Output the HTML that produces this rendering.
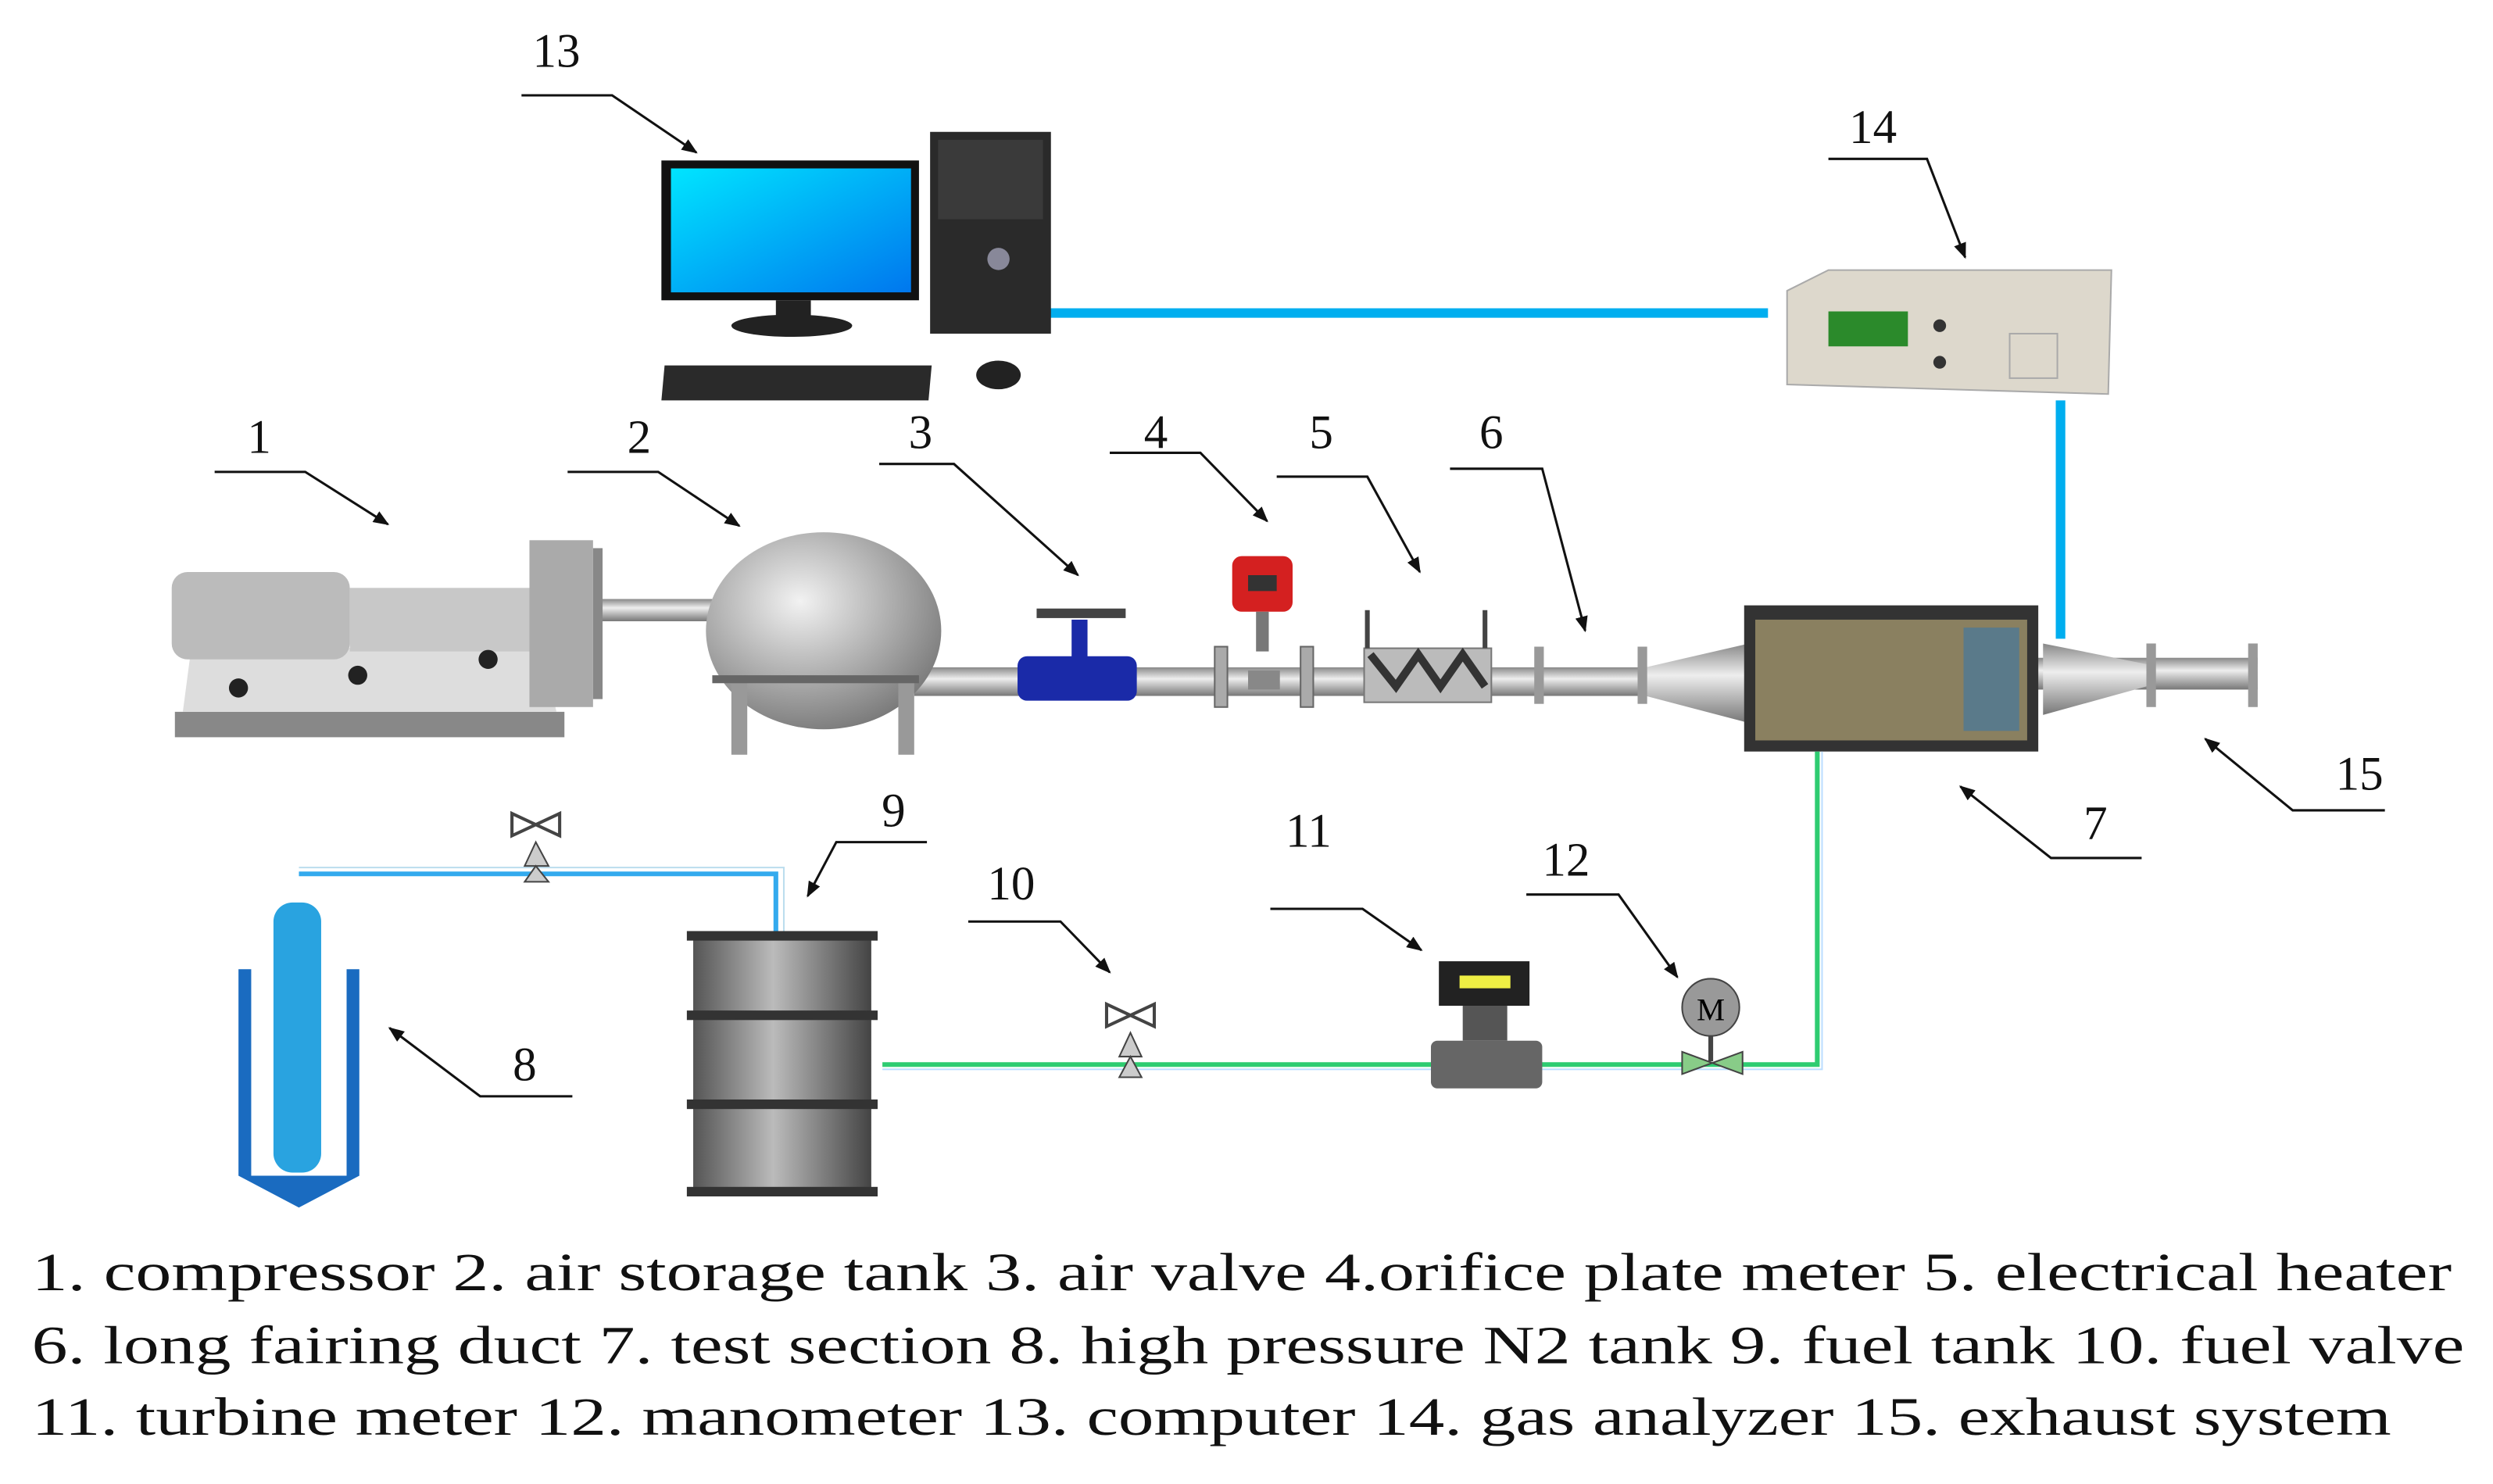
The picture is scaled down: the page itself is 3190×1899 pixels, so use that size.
<!DOCTYPE html>
<html><head><meta charset="utf-8"><style>html,body{margin:0;padding:0;background:#fff}svg{display:block;font-family:"Liberation Serif",serif}</style></head><body>
<svg width="3190" height="1899" viewBox="0 0 1568 934" preserveAspectRatio="none" xmlns="http://www.w3.org/2000/svg">
<defs>
<marker id="ar" markerWidth="10" markerHeight="8" refX="9" refY="4" orient="auto" markerUnits="userSpaceOnUse"><path d="M0,0 L10,4 L0,8 Z" fill="#111"/></marker>
<linearGradient id="pipe" x1="0" y1="0" x2="0" y2="1"><stop offset="0" stop-color="#888"/><stop offset="0.4" stop-color="#eee"/><stop offset="1" stop-color="#777"/></linearGradient>
<linearGradient id="drum" x1="0" y1="0" x2="1" y2="0"><stop offset="0" stop-color="#555"/><stop offset="0.45" stop-color="#bbb"/><stop offset="1" stop-color="#444"/></linearGradient>
<radialGradient id="sph" cx="0.4" cy="0.35" r="0.7"><stop offset="0" stop-color="#f2f2f2"/><stop offset="1" stop-color="#777"/></radialGradient>
<linearGradient id="scr" x1="0" y1="0" x2="1" y2="1"><stop offset="0" stop-color="#00e5ff"/><stop offset="1" stop-color="#0077ee"/></linearGradient>
</defs>
<line x1="660" y1="197" x2="1112" y2="197" stroke="#00aeef" stroke-width="6"/>
<line x1="1296" y1="252" x2="1296" y2="402" stroke="#00aeef" stroke-width="6"/>
<rect x="416" y="101" width="162" height="88" fill="#111"/>
<rect x="422" y="106" width="151" height="78" fill="url(#scr)"/>
<rect x="488" y="189" width="22" height="12" fill="#222"/>
<ellipse cx="498" cy="205" rx="38" ry="7" fill="#222"/>
<rect x="585" y="83" width="76" height="127" fill="#2a2a2a"/>
<rect x="590" y="88" width="66" height="50" fill="#3a3a3a"/>
<circle cx="628" cy="163" r="7" fill="#889"/>
<path d="M418 230 L586 230 L584 252 L416 252 Z" fill="#2a2a2a"/>
<ellipse cx="628" cy="236" rx="14" ry="9" fill="#222"/>
<path d="M1124 183 L1150 170 L1328 170 L1326 248 L1124 242 Z" fill="#ddd8cc" stroke="#aaa"/>
<rect x="1150" y="196" width="50" height="22" fill="#2b8a2b"/>
<circle cx="1220" cy="205" r="4" fill="#333"/><circle cx="1220" cy="228" r="4" fill="#333"/>
<rect x="1264" y="210" width="30" height="28" fill="none" stroke="#aaa"/>
<rect x="376" y="377" width="80" height="14" fill="url(#pipe)"/>
<rect x="575" y="420" width="530" height="18" fill="url(#pipe)"/>
<rect x="1280" y="414" width="140" height="20" fill="url(#pipe)"/>
<path d="M1035 420 L1100 405 L1100 455 L1035 438 Z" fill="url(#pipe)"/>
<path d="M1285 405 L1350 418 L1350 432 L1285 450 Z" fill="url(#pipe)"/>
<rect x="965" y="407" width="6" height="36" fill="#999"/><rect x="1030" y="407" width="6" height="36" fill="#999"/>
<rect x="1350" y="405" width="6" height="40" fill="#999"/><rect x="1414" y="405" width="6" height="40" fill="#999"/>
<rect x="764" y="407" width="8" height="38" fill="#aaa" stroke="#666"/><rect x="818" y="407" width="8" height="38" fill="#aaa" stroke="#666"/>
<rect x="785" y="422" width="20" height="12" fill="#888"/>
<rect x="110" y="448" width="245" height="16" fill="#888"/>
<path d="M115 448 L120 410 L340 405 L350 448 Z" fill="#ddd"/>
<rect x="108" y="360" width="112" height="55" rx="10" fill="#bbb"/>
<rect x="220" y="370" width="115" height="40" fill="#c8c8c8"/>
<rect x="333" y="340" width="40" height="105" fill="#aaa"/>
<rect x="373" y="345" width="6" height="95" fill="#888"/>
<circle cx="150" cy="433" r="6" fill="#222"/><circle cx="225" cy="425" r="6" fill="#222"/><circle cx="307" cy="415" r="6" fill="#222"/>
<ellipse cx="518" cy="397" rx="74" ry="62" fill="url(#sph)"/>
<rect x="460" y="425" width="10" height="50" fill="#999"/><rect x="565" y="425" width="10" height="50" fill="#999"/>
<rect x="448" y="425" width="130" height="5" fill="#666"/>
<rect x="640" y="413" width="75" height="28" rx="6" fill="#1a2aa8"/>
<rect x="674" y="390" width="10" height="25" fill="#1a2aa8"/>
<rect x="652" y="383" width="56" height="6" fill="#444"/>
<rect x="775" y="350" width="38" height="35" rx="6" fill="#d42020"/>
<rect x="785" y="362" width="18" height="10" fill="#333"/>
<rect x="790" y="385" width="8" height="25" fill="#777"/>
<rect x="858" y="408" width="80" height="34" fill="#bbb" stroke="#777"/>
<line x1="860" y1="384" x2="860" y2="408" stroke="#444" stroke-width="3"/><line x1="934" y1="384" x2="934" y2="408" stroke="#444" stroke-width="3"/>
<path d="M862 412 L878 432 L892 412 L906 432 L920 412 L934 432" fill="none" stroke="#333" stroke-width="5"/>
<rect x="1097" y="381" width="185" height="92" fill="#333"/>
<rect x="1104" y="390" width="171" height="76" fill="#8a8060"/>
<rect x="1235" y="395" width="35" height="65" fill="#5a7a8a"/>
<polyline points="1143,473 1143,670 555,670" fill="none" stroke="#2ecc71" stroke-width="3"/>
<polyline points="1146,473 1146,673 555,673" fill="none" stroke="#bdf" stroke-width="1"/>
<polyline points="188,550 488,550 488,588" fill="none" stroke="#33aaee" stroke-width="3"/>
<polyline points="188,546 493,546 493,588" fill="none" stroke="#bde" stroke-width="1"/>
<path d="M322 512 L352 526 L352 512 L322 526 Z" fill="none" stroke="#444" stroke-width="2"/><path d="M330 545 L345 545 L337 530 Z M330 555 L345 555 L337 545Z" fill="#ccc" stroke="#444"/>
<path d="M696 632 L726 646 L726 632 L696 646 Z" fill="none" stroke="#444" stroke-width="2"/><path d="M704 665 L718 665 L711 650 Z M704 678 L718 678 L711 665Z" fill="#ccc" stroke="#444"/>
<rect x="172" y="568" width="30" height="170" rx="12" fill="#29a3e0"/>
<rect x="150" y="610" width="8" height="130" fill="#1a6bc0"/><rect x="218" y="610" width="8" height="130" fill="#1a6bc0"/>
<path d="M150 740 L188 760 L226 740 Z" fill="#1a6bc0"/>
<rect x="436" y="588" width="112" height="163" fill="url(#drum)"/>
<rect x="432" y="586" width="120" height="6" fill="#333"/><rect x="432" y="636" width="120" height="6" fill="#333"/><rect x="432" y="692" width="120" height="6" fill="#333"/><rect x="432" y="747" width="120" height="6" fill="#333"/>
<rect x="905" y="605" width="57" height="28" fill="#222"/><rect x="918" y="614" width="32" height="8" fill="#ee4"/>
<rect x="920" y="633" width="28" height="22" fill="#555"/>
<rect x="900" y="655" width="70" height="30" rx="4" fill="#666"/>
<circle cx="1076" cy="634" r="18" fill="#999" stroke="#444"/><text x="1076" y="642" font-size="20" text-anchor="middle">M</text>
<line x1="1076" y1="652" x2="1076" y2="668" stroke="#444" stroke-width="3"/>
<path d="M1058 662 L1096 676 L1096 662 L1058 676 Z" fill="#8c8" stroke="#444"/>
<g stroke="#111" stroke-width="1.5" fill="none">
<polyline points="328,60 385,60 438,96" marker-end="url(#ar)"/>
<polyline points="1150,100 1212,100 1236,162" marker-end="url(#ar)"/>
<polyline points="135,297 192,297 244,330" marker-end="url(#ar)"/>
<polyline points="357,297 414,297 465,331" marker-end="url(#ar)"/>
<polyline points="553,292 600,292 678,362" marker-end="url(#ar)"/>
<polyline points="698,285 755,285 797,328" marker-end="url(#ar)"/>
<polyline points="803,300 860,300 893,360" marker-end="url(#ar)"/>
<polyline points="912,295 970,295 997,397" marker-end="url(#ar)"/>
<polyline points="1500,510 1442,510 1387,465" marker-end="url(#ar)"/>
<polyline points="1347,540 1290,540 1233,495" marker-end="url(#ar)"/>
<polyline points="360,690 302,690 245,647" marker-end="url(#ar)"/>
<polyline points="583,530 526,530 508,564" marker-end="url(#ar)"/>
<polyline points="609,580 667,580 698,612" marker-end="url(#ar)"/>
<polyline points="799,572 857,572 894,598" marker-end="url(#ar)"/>
<polyline points="960,563 1018,563 1055,615" marker-end="url(#ar)"/>
</g>
<g font-size="30" fill="#111" text-anchor="middle" font-family="Liberation Serif, serif">
<text x="350" y="42">13</text><text x="1178" y="90">14</text><text x="163" y="285">1</text><text x="402" y="285">2</text><text x="579" y="282">3</text><text x="727" y="282">4</text><text x="831" y="282">5</text><text x="938" y="282">6</text>
<text x="1484" y="497">15</text><text x="1318" y="528">7</text><text x="330" y="680">8</text><text x="562" y="520">9</text><text x="636" y="566">10</text><text x="823" y="533">11</text><text x="985" y="551">12</text>
</g>
<g font-size="34" fill="#111" font-family="Liberation Serif, serif">
<text x="20" y="812" textLength="1522" lengthAdjust="spacingAndGlyphs">1. compressor  2. air storage tank 3. air valve  4.orifice plate meter 5. electrical heater</text>
<text x="20" y="858" textLength="1530" lengthAdjust="spacingAndGlyphs">6. long fairing duct 7. test section 8. high pressure N2  tank  9. fuel tank 10. fuel valve</text>
<text x="20" y="903" textLength="1484" lengthAdjust="spacingAndGlyphs">11. turbine meter 12. manometer 13. computer 14. gas analyzer  15. exhaust system</text>
</g>
</svg>
</body></html>
